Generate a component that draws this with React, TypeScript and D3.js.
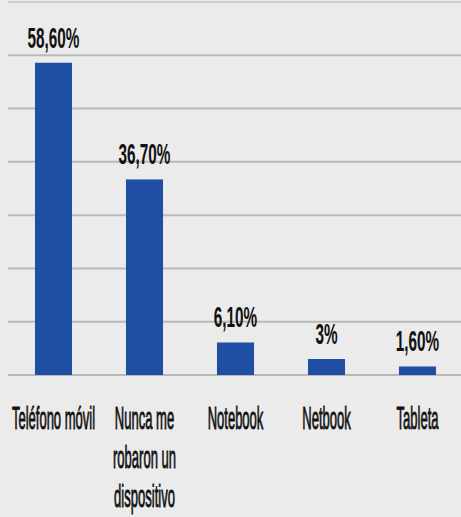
import React from "react";
import * as d3 from "d3";

const categories: string[][] = [
  ["Teléfono móvil"],
  ["Nunca me", "robaron un", "dispositivo"],
  ["Notebook"],
  ["Netbook"],
  ["Tableta"],
];
const values: number[] = [58.6, 36.7, 6.1, 3, 1.6];
const valueLabels: string[] = ["58,60%", "36,70%", "6,10%", "3%", "1,60%"];
const gridTicks: number[] = [0, 10, 20, 30, 40, 50, 60, 70];

const W = 461;
const H = 517;

export default function App() {
  const x = d3
    .scaleBand<number>()
    .domain(values.map((_, i) => i))
    .range([8, 463])
    .paddingInner(0.593)
    .paddingOuter(0.2965);
  const y = d3.scaleLinear().domain([0, 70]).range([375, 2]);

  const font = "'Liberation Sans', Arial, sans-serif";

  return (
    <svg
      width={W}
      height={H}
      style={{ position: "absolute", left: 0, top: 0, display: "block" }}
    >
      <rect x={0} y={0} width={W} height={H} fill="#ebebeb" />
      {gridTicks.map((t) => (
        <line
          key={t}
          x1={8}
          x2={W}
          y1={y(t)}
          y2={y(t)}
          stroke={t === 70 ? "#cdcdcd" : "#b9b9b9"}
          strokeWidth={2}
        />
      ))}
      {values.map((v, i) => (
        <rect
          key={i}
          x={x(i)}
          y={y(v)}
          width={x.bandwidth()}
          height={y(0) - y(v)}
          fill="#1e4fa3"
        />
      ))}
      {values.map((v, i) => (
        <text
          key={"v" + i}
          transform={`translate(${(x(i) as number) + x.bandwidth() / 2},${y(v) - 15}) scale(0.51,1)`}
          textAnchor="middle"
          fontFamily={font}
          fontWeight="bold"
          fontSize={30}
          fill="#111"
        >
          {valueLabels[i]}
        </text>
      ))}
      {categories.map((lines, i) =>
        lines.map((ln, j) => (
          <text
            key={"c" + i + "-" + j}
            transform={`translate(${(x(i) as number) + x.bandwidth() / 2},${y(0) + 54 + j * 39}) scale(0.42,1)`}
            textAnchor="middle"
            fontFamily={font}
            fontSize={31}
            fill="#111"
            stroke="#111"
            strokeWidth={0.9}
          >
            {ln}
          </text>
        ))
      )}
    </svg>
  );
}
